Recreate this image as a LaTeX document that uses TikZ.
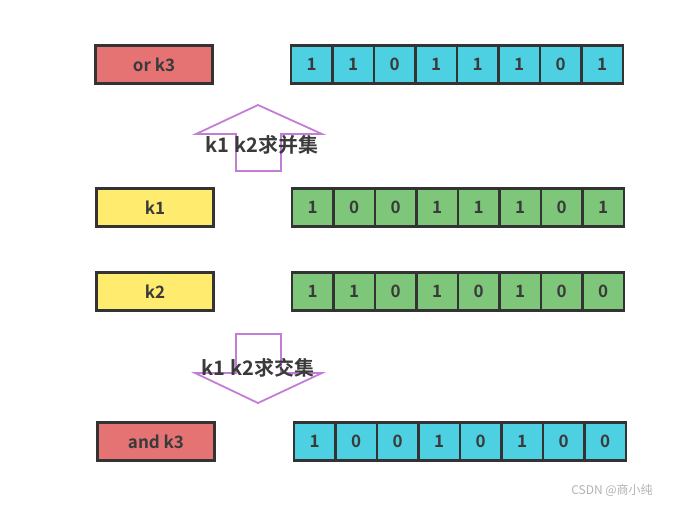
\documentclass[tikz,border=0pt]{standalone}
\usepackage{fontspec}
\setmainfont{Noto Sans CJK SC}[BoldFont={Noto Sans CJK SC Bold}]
\definecolor{redbox}{HTML}{E57373}
\definecolor{yellowbox}{HTML}{FFEC6E}
\definecolor{greenbox}{HTML}{7DC67A}
\definecolor{cyanbox}{HTML}{4DD0E1}
\definecolor{edge}{HTML}{333333}
\definecolor{txt}{HTML}{3A3A3A}
\definecolor{arrowline}{HTML}{C47DD6}
\begin{document}
\begin{tikzpicture}[x=1pt,y=-1pt,line width=2.2pt,every node/.style={font=\bfseries\fontsize{17}{19}\selectfont,text=txt,inner sep=0pt}]
\tikzset{labelbox/.style={draw=edge,minimum width=117pt,minimum height=38pt},
  bit/.style={draw=edge,minimum width=41.5pt,minimum height=38pt},
  opword/.style={font=\bfseries\fontsize{20}{22}\selectfont}}
\path (0,0) rectangle (675,507);
% rows
\node[labelbox,fill=redbox] (ork) at (154,64.5) {or k3};
\foreach \b [count=\i] in {1,1,0,1,1,1,0,1}
  \node[bit,fill=cyanbox] (or\i) at (270.25+41.5*\i,64.5) {\b};
\node[labelbox,fill=yellowbox] (ka) at (155,207.5) {k1};
\foreach \b [count=\i] in {1,0,0,1,1,1,0,1}
  \node[bit,fill=greenbox] (ka\i) at (271.25+41.5*\i,207.5) {\b};
\node[labelbox,fill=yellowbox] (kb) at (155,291.5) {k2};
\foreach \b [count=\i] in {1,1,0,1,0,1,0,0}
  \node[bit,fill=greenbox] (kb\i) at (271.25+41.5*\i,291.5) {\b};
\node[labelbox,fill=redbox] (andk) at (156,441.5) {and k3};
\foreach \b [count=\i] in {1,0,0,1,0,1,0,0}
  \node[bit,fill=cyanbox] (andk\i) at (273.25+41.5*\i,441.5) {\b};
% arrows
\begin{scope}[draw=arrowline,line width=1.8pt]
\draw (236,171) -- (236,134) -- (196,134) -- (258,105) -- (322,134) -- (281,134) -- (281,171) -- cycle;
\draw (236,334) -- (281,334) -- (281,373) -- (322,373) -- (258,403) -- (195,373) -- (236,373) -- cycle;
\end{scope}
\node[opword] (union) at (262,145) {k1 k2求并集};
\node[opword] (inter) at (258,368) {k1 k2求交集};
\node[font=\fontsize{12}{14}\selectfont,text=black!30] (mark) at (612,490) {CSDN @商小纯};
\end{tikzpicture}
\end{document}
